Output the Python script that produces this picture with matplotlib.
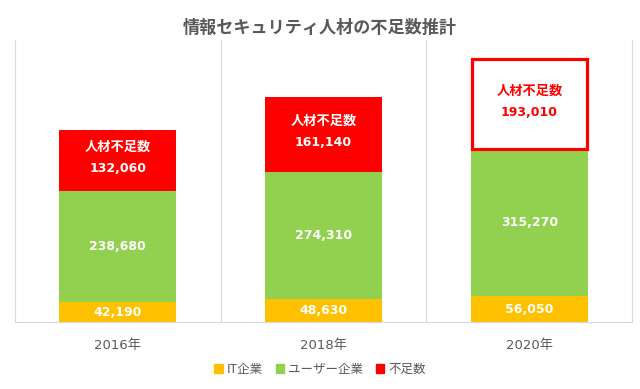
import matplotlib
matplotlib.use("Agg")
import matplotlib.pyplot as plt
from matplotlib.patches import Patch

plt.rcParams['font.family'] = ['Noto Sans CJK JP', 'DejaVu Sans']
MIXED = ['DejaVu Sans', 'Noto Sans CJK JP']  # Verdana-like digits, CJK fallback

# ── Data ────────────────────────────────────────────────
years = ["2016年", "2018年", "2020年"]
it_corp = [42190, 48630, 56050]
user_corp = [238680, 274310, 315270]
shortage = [132060, 161140, 193010]
series_names = ["IT企業", "ユーザー企業", "不足数"]

# ── Colors ──────────────────────────────────────────────
YELLOW = "#FFC000"
GREEN = "#92D050"
RED = "#FF0000"
GRAY = "#595959"
GRID = "#D9D9D9"

fig = plt.figure(figsize=(6.4, 3.89), dpi=100)
ax = fig.add_axes([0.023, 0.172, 0.965, 0.725])

x = list(range(len(years)))
w = 0.565

bottom2 = [a + b for a, b in zip(it_corp, user_corp)]
ax.bar(x, it_corp, width=w, color=YELLOW, linewidth=0)
ax.bar(x, user_corp, width=w, bottom=it_corp, color=GREEN, linewidth=0)

# shortage: last one highlighted as outlined box
for i in x:
    if i == len(x) - 1:
        ax.bar(i, shortage[i], width=w * 0.985, bottom=bottom2[i], color="white",
               edgecolor=RED, linewidth=2.3, zorder=3)
        tc = RED
    else:
        ax.bar(i, shortage[i], width=w, bottom=bottom2[i], color=RED, linewidth=0)
        tc = "white"
    yc = bottom2[i] + shortage[i] / 2
    ax.annotate("人材不足数", (i, yc), xytext=(0, 10), textcoords="offset points",
                ha="center", va="center", color=tc, fontsize=9.5, fontweight="bold", zorder=4)
    ax.annotate(f"{shortage[i]:,}", (i, yc), xytext=(0, -6), textcoords="offset points",
                ha="center", va="center", color=tc, fontsize=9, fontweight="bold",
                family=MIXED, zorder=4)

    ax.text(i, it_corp[i] / 2, f"{it_corp[i]:,}", ha="center", va="center",
            color="white", fontsize=9, fontweight="bold", family=MIXED)
    ax.text(i, it_corp[i] + user_corp[i] / 2, f"{user_corp[i]:,}", ha="center",
            va="center", color="white", fontsize=9, fontweight="bold", family=MIXED)

ax.set_xlim(-0.5, len(x) - 0.5)
ax.set_ylim(0, 606000)
ax.set_yticks([])
ax.set_xticks(x)
ax.set_xticklabels(years, color=GRAY, fontsize=9.5, family=MIXED)
ax.tick_params(axis="x", length=0, pad=12)

for b in [0.5, 1.5]:
    ax.axvline(b, color=GRID, lw=0.8, zorder=0)
for s in ["left", "right", "bottom"]:
    ax.spines[s].set_color(GRID)
    ax.spines[s].set_linewidth(0.8)
ax.spines["top"].set_visible(False)

fig.text(0.5, 0.927, "情報セキュリティ人材の不足数推計", ha="center", va="center",
         fontsize=12.3, fontweight="bold", color=GRAY)

handles = [Patch(color=c) for c in [YELLOW, GREEN, RED]]
leg = fig.legend(handles, series_names, loc="center", bbox_to_anchor=(0.5, 0.05),
                 ncol=3, frameon=False, fontsize=9, handlelength=0.7,
                 handleheight=0.7, handletextpad=0.3, columnspacing=1.0)
for t in leg.get_texts():
    t.set_color(GRAY)

fig.savefig("out.png", dpi=100, facecolor="white")
